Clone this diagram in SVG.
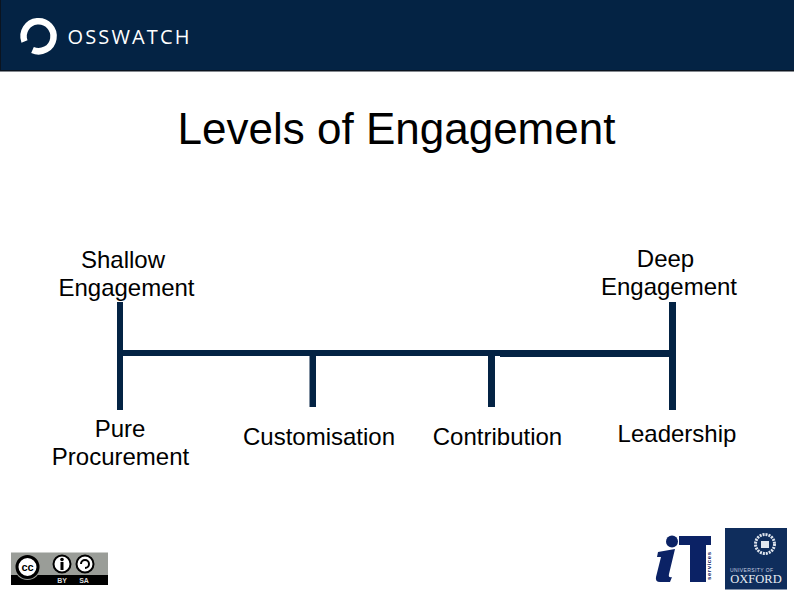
<svg xmlns="http://www.w3.org/2000/svg" width="794" height="595" viewBox="0 0 794 595">
<style>
text{font-family:"Liberation Sans",Arial,sans-serif;fill:#000}
.l{font-size:24px;text-anchor:middle}
.b{fill:#042344}
</style>
<rect width="794" height="595" fill="#fff"/>
<g id="header">
<rect x="0" y="0" width="794" height="71" class="b"/>
<rect x="0" y="0" width="1" height="71" fill="#0b1420"/>
<rect x="0" y="70" width="794" height="1.500" fill="#0b1420"/>
<path d="M24.500 41.500A15 15 0 1 1 32.500 50" fill="none" stroke="#fff" stroke-width="6.500"/>
<text x="67.500" y="43.500" style="font-family:'Open Sans',sans-serif;fill:#fff" font-size="20" textLength="122" lengthAdjust="spacing">OSSWATCH</text>
</g>
<text id="title" x="396.500" y="144" font-size="44" text-anchor="middle">Levels of Engagement</text>
<g id="connectors" class="b">
<rect x="117" y="302" width="6" height="108"/>
<rect x="120" y="350" width="380" height="6"/>
<rect x="500" y="350" width="172" height="7"/>
<rect x="309.500" y="355" width="6.500" height="52"/>
<rect x="488" y="355" width="7" height="52"/>
<rect x="669" y="302" width="7" height="108"/>
</g>
<g id="shallow"><text class="l" x="123" y="268">Shallow</text><text class="l" x="126.500" y="296">Engagement</text></g>
<g id="deep"><text class="l" x="665.500" y="267">Deep</text><text class="l" x="669" y="295">Engagement</text></g>
<g id="pure"><text class="l" x="120" y="437">Pure</text><text class="l" x="120.500" y="465">Procurement</text></g>
<g id="customisation"><text class="l" x="319" y="445">Customisation</text></g>
<g id="contribution"><text class="l" x="497.500" y="445">Contribution</text></g>
<g id="leadership"><text class="l" x="677" y="442">Leadership</text></g>
<g id="cc-badge">
<rect x="11" y="552.500" width="97" height="32.500" fill="#9a9d98"/>
<rect x="11" y="575" width="97" height="10" fill="#000"/>
<circle cx="27.500" cy="567" r="13" fill="#9a9d98"/>
<circle cx="27.500" cy="567" r="10.500" fill="#fff" stroke="#000" stroke-width="3"/>
<text x="27.500" y="571" font-size="11" font-weight="700" text-anchor="middle">cc</text>
<circle cx="62" cy="564" r="8.500" fill="#fff" stroke="#000" stroke-width="2"/>
<circle cx="62" cy="559.500" r="1.800"/>
<rect x="60.500" y="562" width="3" height="8"/>
<circle cx="85" cy="564" r="8.500" fill="#fff" stroke="#000" stroke-width="2"/>
<path d="M81 564A4 4 0 1 1 85 568" fill="none" stroke="#000" stroke-width="2"/>
<text x="62" y="583" font-size="7" font-weight="700" text-anchor="middle" style="fill:#ddd">BY</text>
<text x="84" y="583" font-size="7" font-weight="700" text-anchor="middle" style="fill:#ddd">SA</text>
</g>
<g id="it-logo" fill="#0b2265">
<circle cx="672" cy="541.500" r="6"/>
<path d="M658 552L675 549L669 574Q668 578 672 577L670 582L660 582Q655 582 656 577L661 557L657 557Z"/>
<path d="M679 536H711V545H706V582H690V545H679Z"/>
<text x="0" y="0" transform="translate(711 580) rotate(-90)" font-size="6" font-weight="700" style="fill:#0b2265" textLength="28">services</text>
</g>
<g id="oxford-logo">
<rect x="725" y="528" width="62" height="61.500" fill="#0f2d5c"/>
<circle cx="765" cy="544" r="9.500" fill="none" stroke="#dfe5ee" stroke-width="3" stroke-dasharray="2 1"/>
<rect x="761" y="541" width="8" height="7" fill="#dfe5ee"/>
<text x="730" y="571.500" font-size="5" style="fill:#c9d2e0" letter-spacing=".4">UNIVERSITY OF</text>
<text x="756" y="583" font-size="12.500" text-anchor="middle" style="font-family:'Liberation Serif',serif;fill:#e8ecf2">OXFORD</text>
</g>
</svg>
